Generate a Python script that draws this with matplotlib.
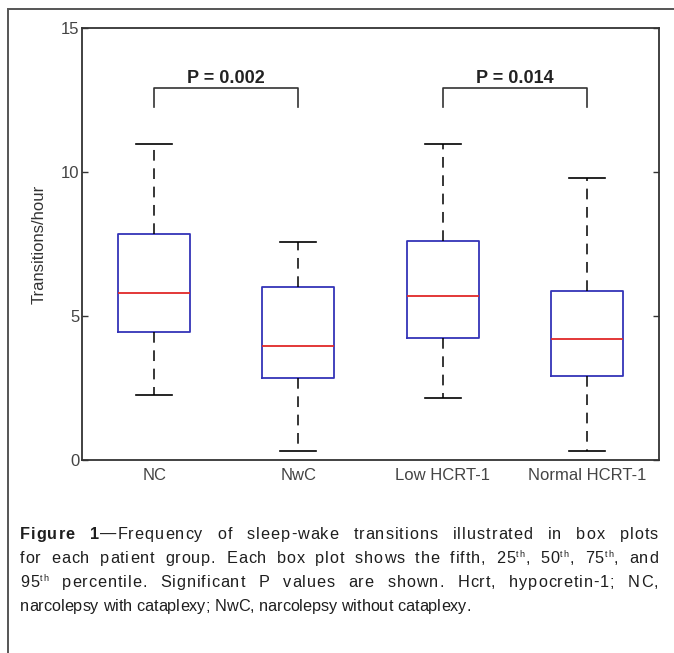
import re
import matplotlib
matplotlib.use('Agg')
import matplotlib.pyplot as plt
from matplotlib.patches import Rectangle
from matplotlib.font_manager import FontProperties, findfont, get_font

W, H = 674, 653

# percentiles per group
groups = ['NC', 'NwC', 'Low HCRT-1', 'Normal HCRT-1']
p5 = [2.26, 0.32, 2.16, 0.32]
p25 = [4.43, 2.86, 4.25, 2.91]
p50 = [5.81, 3.97, 5.68, 4.20]
p75 = [7.85, 5.99, 7.62, 5.87]
p95 = [10.97, 7.56, 10.97, 9.78]

# significance brackets
pairs = [(1, 2), (3, 4)]
p_labels = ['P = 0.002', 'P = 0.014']

caption = [
    "{b:Figure} {b:1}\u2014Frequency of sleep-wake transitions illustrated in box plots",
    "for each patient group. Each box plot shows the fifth, 25{s:th}, 50{s:th}, 75{s:th}, and",
    "95{s:th} percentile. Significant P values are shown. Hcrt, hypocretin-1; NC,",
    "narcolepsy with cataplexy; NwC, narcolepsy without cataplexy.",
]

plt.rcParams['font.family'] = ['Liberation Sans', 'DejaVu Sans']

fig = plt.figure(figsize=(W / 100, H / 100), dpi=100)

def fx(x):
    return x / W

def fy(y):
    return 1 - y / H

# outer frame (runs off the right and bottom edges)
fig.patches.append(Rectangle((fx(8), fy(700)), fx(720), fy(9) - fy(700),
                             transform=fig.transFigure, fill=False,
                             edgecolor='#555555', lw=1.4))

ax = fig.add_axes([fx(82), fy(460), fx(659) - fx(82), fy(28) - fy(460)])

stats = []
for i, g in enumerate(groups):
    stats.append(dict(label=g, whislo=p5[i], q1=p25[i], med=p50[i],
                      q3=p75[i], whishi=p95[i], fliers=[]))

ax.bxp(stats, positions=[1, 2, 3, 4], widths=0.5, capwidths=0.25,
       showfliers=False,
       boxprops=dict(color='#3434b8', lw=1.3),
       medianprops=dict(color='#e02828', lw=1.3),
       whiskerprops=dict(color='black', lw=1.1, linestyle=(0, (7, 5))),
       capprops=dict(color='black', lw=1.2))

for (a, b), lab in zip(pairs, p_labels):
    ax.plot([a, a, b, b], [12.27, 12.9, 12.9, 12.27], color='#333333', lw=1.2)
    ax.text((a + b) / 2, 13.08, lab, ha='center', va='baseline',
            fontsize=13, fontweight='bold', color='#222222')

ax.set_xlim(0.5, 4.5)
ax.set_ylim(0, 15)
ax.set_yticks([0, 5, 10, 15])
ax.set_ylabel('Transitions/hour', fontsize=12, color='#333333', labelpad=10)
ax.tick_params(axis='y', direction='in', length=4, width=1, pad=2,
               labelsize=12, labelcolor='#444444', right=True, color='#333333')
ax.tick_params(axis='x', length=0, pad=6, labelsize=12, labelcolor='#444444')
for s in ax.spines.values():
    s.set_color('#333333')
    s.set_linewidth(1.3)

# justified caption, laid out glyph by glyph using real advances
cap_size = 11.7
styles = {
    'n': dict(fontsize=cap_size, color='#1e1e1e'),
    'b': dict(fontsize=cap_size, color='#1e1e1e', fontweight='bold'),
    's': dict(fontsize=6.5, color='#1e1e1e'),
}
fonts = {}
for k, st in styles.items():
    fp = FontProperties(family='Liberation Sans', size=st['fontsize'],
                        weight=st.get('fontweight', 'normal'))
    f = get_font(findfont(fp))
    fonts[k] = (findfont(fp), st['fontsize'])

def adv(c, st):
    path, size = fonts[st]
    f = get_font(path)
    f.set_size(size, 100)
    g = f.load_char(ord(c))
    return g.linearHoriAdvance / 65536

def chars_of(word):
    out = []
    pos = 0
    for m in re.finditer(r'\{(b|s):([^}]*)\}', word):
        out += [(c, 'n') for c in word[pos:m.start()]]
        out += [(c, m.group(1)) for c in m.group(2)]
        pos = m.end()
    out += [(c, 'n') for c in word[pos:]]
    return out

left, right = 20, 658
base0, step = 539, 24
space_w = adv(' ', 'n')
for li, line in enumerate(caption):
    words = [chars_of(w) for w in line.split(' ')]
    widths = [sum(adv(c, st) for c, st in wd) for wd in words]
    n_inner = sum(len(wd) - 1 for wd in words)
    n_w = len(words) - 1
    natural = sum(widths) + n_w * space_w
    ls, wg = 0.0, space_w
    if li < len(caption) - 1:
        extra = (right - left) - natural
        ls = 0.45 * extra / (n_inner + n_w)
        wg = space_w + ls + (extra - ls * (n_inner + n_w)) / n_w
    x = left
    y = base0 + li * step
    for wd in words:
        for c, st in wd:
            yy = y - 6 if st == 's' else y
            fig.text(fx(x), fy(yy), c, va='baseline', ha='left', **styles[st])
            x += adv(c, st) + ls
        x += wg - ls

fig.savefig('out.png', dpi=100)
